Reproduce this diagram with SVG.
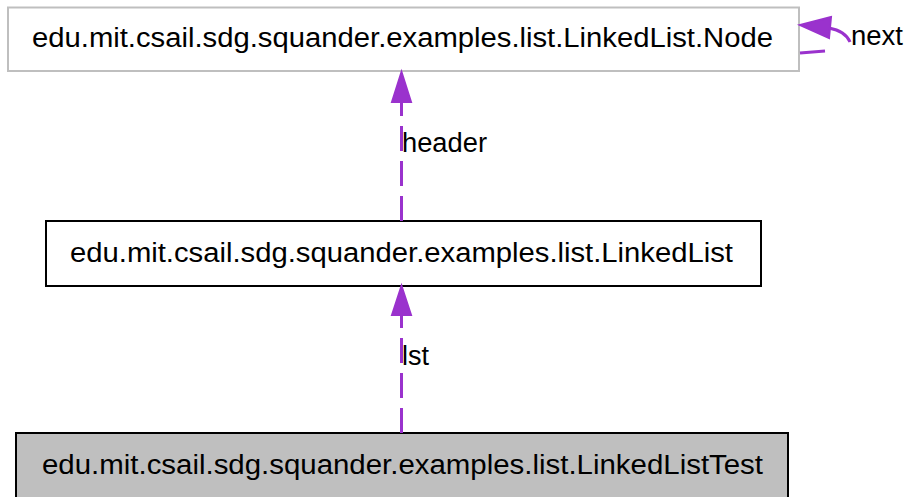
<svg xmlns="http://www.w3.org/2000/svg" width="907" height="497" viewBox="0 0 907 497">
<style>
.lbl{font-family:"Liberation Sans",Arial,sans-serif;font-size:27px;fill:#000}
.box{stroke-width:2}
.edge{fill:none;stroke:#9a32cd;stroke-width:3;stroke-dasharray:25,10}
.seg{fill:none;stroke:#9a32cd;stroke-width:3}
.head{fill:#9a32cd;stroke:#9a32cd;stroke-width:2}
</style>
<rect width="907" height="497" fill="#fff"/>
<g id="node-Node">
<rect class="box" x="8" y="7.5" width="791" height="63.5" fill="#fff" stroke="#bfbfbf"/>
<text class="lbl" x="32" y="47" textLength="741" lengthAdjust="spacingAndGlyphs">edu.mit.csail.sdg.squander.examples.list.LinkedList.Node</text>
</g>
<g id="node-LinkedList">
<rect class="box" x="46" y="221" width="715" height="65" fill="#fff" stroke="#000"/>
<text class="lbl" x="70" y="262" textLength="663" lengthAdjust="spacingAndGlyphs">edu.mit.csail.sdg.squander.examples.list.LinkedList</text>
</g>
<g id="node-LinkedListTest">
<rect class="box" x="16" y="433" width="772" height="70" fill="#bfbfbf" stroke="#000"/>
<text class="lbl" x="42" y="474" textLength="721" lengthAdjust="spacingAndGlyphs">edu.mit.csail.sdg.squander.examples.list.LinkedListTest</text>
</g>
<g id="connectors">
<g id="edge-header">
<path class="edge" d="M401.5,221 L401.5,102"/>
<polygon class="head" points="392,102 401.5,72 411,102"/>
<text class="lbl" x="402" y="152" textLength="85" lengthAdjust="spacingAndGlyphs">header</text>
</g>
<g id="edge-lst">
<path class="edge" d="M401.5,433 L401.5,315"/>
<polygon class="head" points="392,315 401.5,286 411,315"/>
<text class="lbl" x="402" y="365">lst</text>
</g>
<g id="edge-next">
<path class="seg" d="M800,53 L825,51"/>
<path class="seg" d="M829,28 C840,30 847,35 850,42"/>
<polygon class="head" points="831,17 800,25 829,38"/>
<text class="lbl" x="851" y="45" textLength="52" lengthAdjust="spacingAndGlyphs">next</text>
</g>
</g>
</svg>
